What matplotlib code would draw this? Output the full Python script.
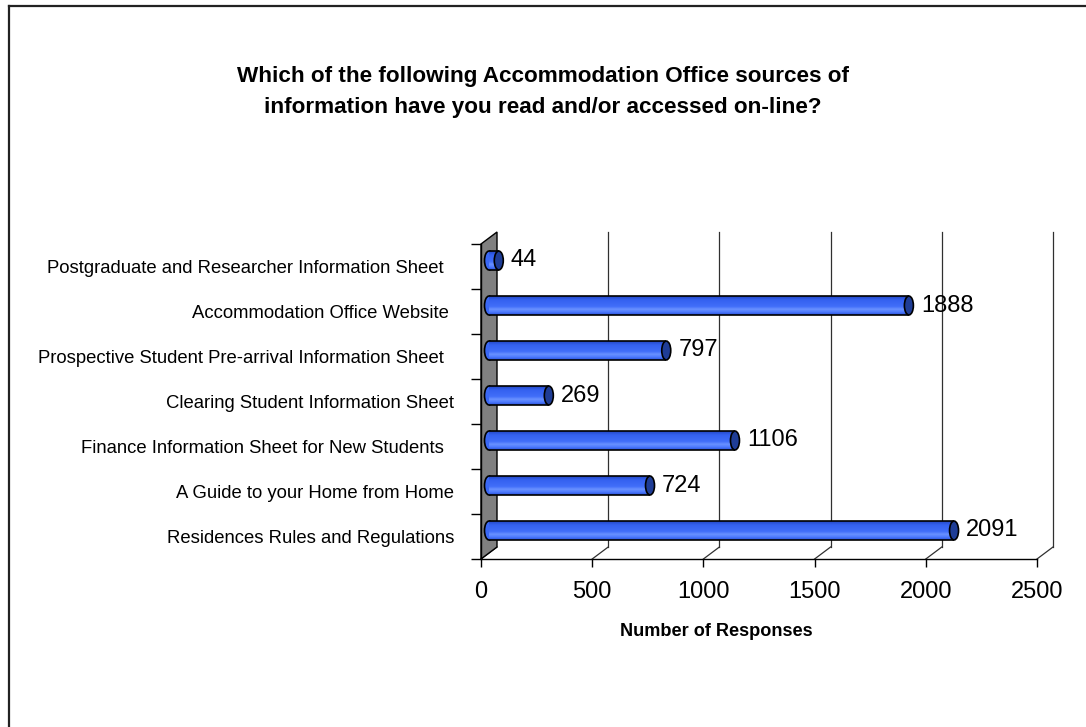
import matplotlib
matplotlib.use('Agg')
import matplotlib.pyplot as plt
import numpy as np
from matplotlib.patches import Ellipse, Polygon
from matplotlib.lines import Line2D
from matplotlib.transforms import ScaledTranslation, IdentityTransform
from matplotlib.colors import LinearSegmentedColormap

plt.rcParams['font.family'] = ['Liberation Sans', 'DejaVu Sans']

# ---- data (bottom to top) ----
categories = [
    'Residences Rules and Regulations',
    'A Guide to your Home from Home',
    'Finance Information Sheet for New Students  ',
    'Clearing Student Information Sheet',
    'Prospective Student Pre-arrival Information Sheet  ',
    'Accommodation Office Website ',
    'Postgraduate and Researcher Information Sheet  ',
]
values = [2091, 724, 1106, 269, 797, 1888, 44]
xticks = [0, 500, 1000, 1500, 2000, 2500]
title = ('Which of the following Accommodation Office sources of\n'
         'information have you read and/or accessed on-line?')
xlabel = 'Number of Responses'

W, H = 1086, 727
DPI = 100
fig = plt.figure(figsize=(W / DPI, H / DPI), dpi=DPI)
fig.patch.set_facecolor('white')

# front plane of the 3-D box
L, R, T, B = 481, 1037, 244, 559
ax = fig.add_axes([L / W, 1 - B / H, (R - L) / W, (B - T) / H])
ax.set_xlim(0, 2500)
ax.set_ylim(-0.5, len(values) - 0.5)
ax.set_facecolor('none')
for s in ['top', 'right']:
    ax.spines[s].set_visible(False)
for s in ['left', 'bottom']:
    ax.spines[s].set_color('black')
    ax.spines[s].set_linewidth(1.0)
    ax.spines[s].set_zorder(2.5)

DX, DY = 16, 12  # depth offset in pixels
back = ax.transData + ScaledTranslation(DX / DPI, DY / DPI, fig.dpi_scale_trans)
mid = ax.transData + ScaledTranslation(DX / 2 / DPI, DY / 2 / DPI, fig.dpi_scale_trans)
ident = IdentityTransform()

ymin, ymax = -0.5, len(values) - 0.5

# back wall gridlines + floor diagonals
for t in xticks[1:]:
    ax.plot([t, t], [ymin, ymax], transform=back, color='#303030', lw=0.9,
            clip_on=False, zorder=1)
for t in xticks:
    p0 = ax.transData.transform((t, ymin))
    p1 = back.transform((t, ymin))
    ax.add_line(Line2D([p0[0], p1[0]], [p0[1], p1[1]], transform=ident,
                       color='#303030', lw=0.9, zorder=1, clip_on=False))

# grey side wall
pts = [ax.transData.transform((0, ymin)), back.transform((0, ymin)),
       back.transform((0, ymax)), ax.transData.transform((0, ymax))]
ax.add_patch(Polygon(pts, closed=True, transform=ident, facecolor='#808080',
                     edgecolor='black', lw=1.0, zorder=2, clip_on=False))

# ticks
ax.set_xticks(xticks)
ax.set_xticklabels([str(t) for t in xticks], fontsize=17)
ax.tick_params(axis='x', direction='out', length=6, width=1, pad=10, colors='black')
ax.set_yticks(range(len(categories)))
ax.set_yticklabels(categories, fontsize=13.3)
ax.tick_params(axis='y', which='major', length=0, pad=19.4)
ax.set_yticks(np.arange(-0.5, len(values), 1.0), minor=True)
ax.tick_params(axis='y', which='minor', direction='out', length=7, width=1)

ax.set_xlabel(xlabel, fontsize=13.1, fontweight='bold')
ax.xaxis.set_label_coords((716 - L) / (R - L), -(632 - B) / (B - T))
ax.xaxis.label.set_va('center')

# cylinders
cmap = LinearSegmentedColormap.from_list('cyl', [
    (0.0, '#2a52d8'), (0.15, '#4d7aff'), (0.3, '#6a92ff'),
    (0.45, '#416ef9'), (0.8, '#3461f0'), (1.0, '#2448c4')])
grad = np.linspace(1, 0, 64).reshape(-1, 1)
h = 0.42
capw = 9 / (R - L) * 2500
for i, v in enumerate(values):
    y = i
    ax.add_patch(Ellipse((0, y), capw, h, transform=mid, facecolor='#3a68f5',
                         edgecolor='black', lw=1.2, zorder=3, clip_on=False))
    ax.imshow(grad, extent=[0, v, y - h / 2, y + h / 2], transform=mid,
              cmap=cmap, aspect='auto', zorder=4, clip_on=False,
              interpolation='bilinear')
    ax.plot([0, v], [y + h / 2, y + h / 2], transform=mid, color='black',
            lw=1.2, zorder=4.5, clip_on=False, solid_capstyle='butt')
    ax.plot([0, v], [y - h / 2, y - h / 2], transform=mid, color='black',
            lw=1.2, zorder=4.5, clip_on=False, solid_capstyle='butt')
    ax.add_patch(Ellipse((v, y), capw, h, transform=mid, facecolor='#1f3d96',
                         edgecolor='black', lw=1.2, zorder=5, clip_on=False))
    ax.text(v, y, str(v), transform=mid + ScaledTranslation(12 / DPI, 0, fig.dpi_scale_trans),
            ha='left', va='center', fontsize=17, color='black', zorder=6)

ax.set_xlim(0, 2500)
ax.set_ylim(ymin, ymax)

# title
fig.text(543 / W, 1 - 92 / H, title, ha='center', va='center', fontsize=16.2,
         fontweight='bold', linespacing=1.68)

# chart border (top and left edges visible)
fig.add_artist(Line2D([8.5 / W, 8.5 / W], [0, 1 - 5.5 / H], transform=fig.transFigure,
                      color='#222222', lw=1.6))
fig.add_artist(Line2D([8.5 / W, 1], [1 - 5.5 / H, 1 - 5.5 / H], transform=fig.transFigure,
                      color='#222222', lw=1.6))

fig.savefig('out.png', dpi=DPI, facecolor='white')
